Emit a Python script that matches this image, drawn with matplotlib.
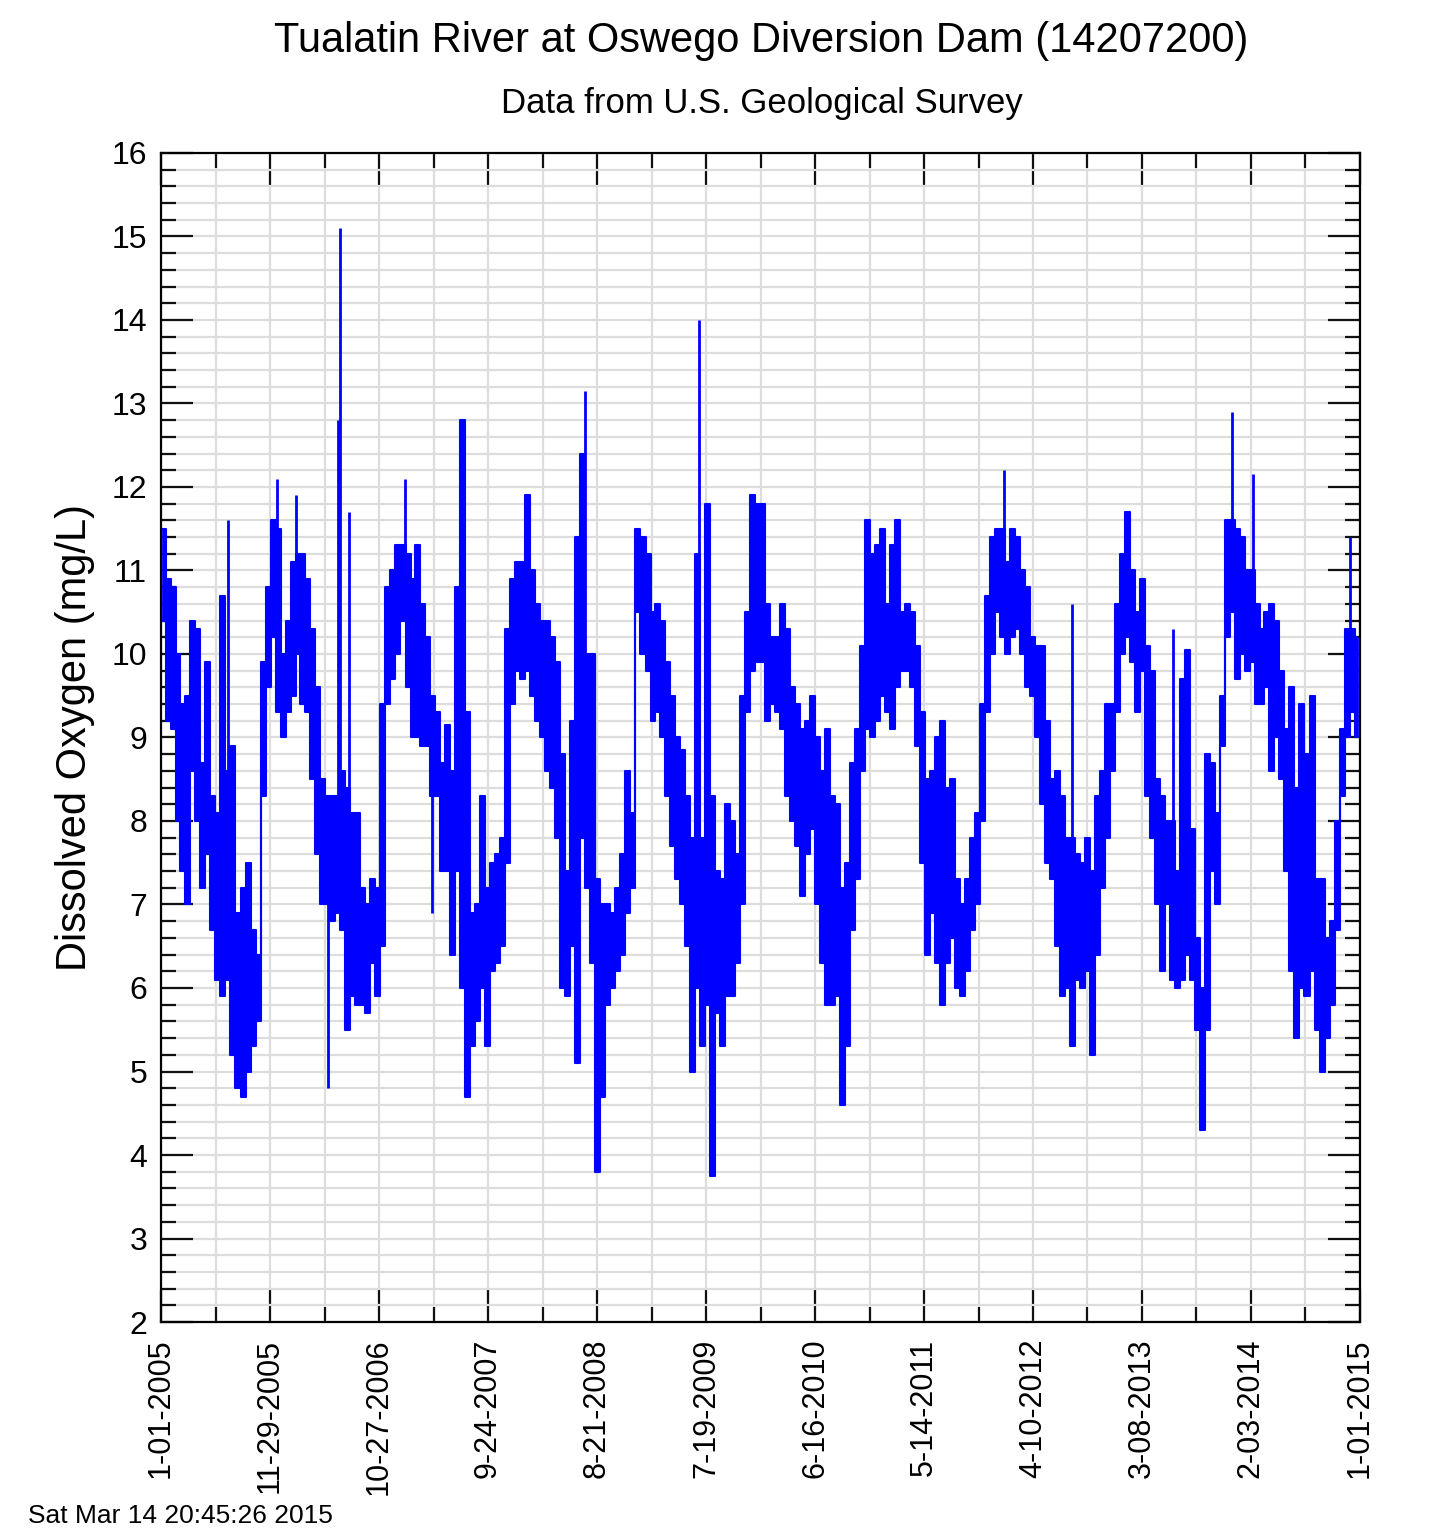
import matplotlib
matplotlib.use('Agg')
import matplotlib.pyplot as plt
import matplotlib.dates as mdates
import matplotlib.ticker as ticker
import numpy as np
import pandas as pd

plt.rcParams['font.family'] = ['Liberation Sans', 'DejaVu Sans']

# semi-monthly band (high / low) of dissolved oxygen (mg/L)
hi_2005 = [11.5, 10.9, 10.8, 10.0, 9.4, 9.5, 10.4, 10.3, 8.7, 9.9, 8.3, 8.1, 10.7, 8.6, 8.9, 6.9, 7.2, 7.5, 6.7, 6.4, 9.9, 10.8, 11.6, 11.5]
lo_2005 = [10.4, 9.2, 9.1, 8.0, 7.4, 7.0, 8.6, 8.0, 7.2, 7.6, 6.7, 6.1, 5.9, 6.1, 5.2, 4.8, 4.7, 5.0, 5.3, 5.6, 8.3, 9.6, 10.2, 9.3]
hi_2006 = [10.0, 10.4, 11.1, 11.2, 11.2, 10.9, 10.3, 9.6, 8.5, 8.3, 8.3, 8.3, 8.6, 8.4, 8.1, 8.1, 7.2, 7.0, 7.3, 7.2, 9.4, 10.8, 11.0, 11.3]
lo_2006 = [9.0, 9.3, 9.5, 10.0, 9.4, 9.3, 8.5, 7.6, 7.0, 7.0, 6.8, 6.9, 6.7, 5.5, 5.9, 5.8, 5.8, 5.7, 6.3, 5.9, 6.5, 9.4, 9.7, 10.0]
hi_2007 = [11.3, 11.2, 10.9, 11.3, 10.6, 10.2, 9.5, 9.3, 8.7, 9.15, 8.6, 10.8, 12.8, 9.3, 6.9, 7.0, 8.3, 7.2, 7.5, 7.6, 7.8, 10.3, 10.9, 11.1]
lo_2007 = [10.4, 9.6, 9.0, 9.0, 8.9, 8.9, 8.3, 8.3, 7.4, 7.4, 6.4, 7.4, 6.0, 4.7, 5.3, 5.6, 6.0, 5.3, 6.2, 6.3, 6.5, 7.5, 9.4, 9.8]
hi_2008 = [11.1, 11.9, 11.0, 10.6, 10.4, 10.4, 10.2, 9.9, 8.8, 7.4, 9.2, 11.4, 12.4, 10.0, 10.0, 7.3, 7.0, 7.0, 6.9, 7.2, 7.6, 8.6, 8.1, 11.5]
lo_2008 = [9.7, 9.8, 9.5, 9.2, 9.0, 8.6, 8.4, 7.8, 6.0, 5.9, 6.5, 5.1, 7.8, 7.2, 6.3, 3.8, 4.7, 5.8, 6.0, 6.2, 6.4, 6.9, 7.2, 10.5]
hi_2009 = [11.4, 11.2, 10.5, 10.6, 10.4, 9.9, 9.5, 9.0, 8.85, 8.3, 7.8, 11.2, 7.8, 11.8, 8.3, 7.4, 7.3, 8.2, 8.0, 7.6, 9.5, 10.5, 11.9, 11.8]
lo_2009 = [10.0, 9.8, 9.2, 9.3, 9.0, 8.3, 7.7, 7.3, 7.0, 6.5, 5.0, 6.0, 5.3, 5.8, 3.75, 5.7, 5.3, 5.9, 5.9, 6.3, 7.0, 9.3, 9.8, 9.9]
hi_2010 = [11.8, 10.6, 10.2, 10.2, 10.6, 10.3, 9.6, 9.4, 9.1, 9.2, 9.5, 9.0, 8.6, 9.1, 8.3, 8.2, 7.2, 7.5, 8.7, 9.1, 10.1, 11.6, 11.2, 11.3]
lo_2010 = [9.9, 9.2, 9.4, 9.3, 9.1, 8.3, 8.0, 7.7, 7.1, 7.6, 7.9, 7.0, 6.3, 5.8, 5.8, 5.9, 4.6, 5.3, 6.7, 7.3, 8.6, 9.1, 9.0, 9.2]
hi_2011 = [11.5, 10.6, 11.3, 11.6, 10.5, 10.6, 10.5, 10.1, 9.3, 8.5, 8.6, 9.0, 9.2, 8.4, 8.5, 7.3, 7.0, 7.3, 7.8, 8.1, 9.4, 10.7, 11.4, 11.5]
lo_2011 = [9.5, 9.3, 9.1, 9.6, 9.8, 9.8, 9.6, 8.9, 7.5, 6.4, 6.9, 6.3, 5.8, 6.3, 6.6, 6.0, 5.9, 6.2, 6.7, 7.0, 8.0, 9.3, 10.0, 10.5]
hi_2012 = [11.5, 11.1, 11.5, 11.4, 11.0, 10.8, 10.2, 10.1, 10.1, 9.2, 8.5, 8.6, 8.3, 7.8, 7.8, 7.6, 7.5, 7.8, 7.4, 8.3, 8.6, 9.4, 9.4, 10.6]
lo_2012 = [10.2, 10.0, 10.2, 10.3, 10.0, 9.6, 9.5, 9.0, 8.2, 7.5, 7.3, 6.5, 5.9, 6.0, 5.3, 6.1, 6.0, 6.2, 5.2, 6.4, 7.2, 7.8, 8.6, 9.3]
hi_2013 = [11.2, 11.7, 11.0, 10.5, 10.9, 10.1, 9.8, 8.5, 8.3, 8.0, 8.0, 7.4, 9.7, 10.05, 7.9, 6.6, 6.0, 8.8, 8.7, 8.1, 9.5, 11.6, 11.6, 11.5]
lo_2013 = [10.0, 10.2, 9.9, 9.3, 9.8, 8.3, 7.8, 7.0, 6.2, 7.0, 6.1, 6.0, 6.1, 6.4, 6.1, 5.5, 4.3, 5.5, 7.4, 7.0, 8.9, 10.2, 10.5, 9.7]
hi_2014 = [11.4, 11.0, 11.0, 10.6, 10.3, 10.5, 10.6, 10.4, 9.8, 9.1, 9.6, 8.4, 9.4, 8.8, 9.5, 7.3, 7.3, 6.6, 6.8, 8.0, 9.1, 10.3, 10.3, 10.2]
lo_2014 = [10.0, 9.8, 9.9, 9.4, 9.4, 9.6, 8.6, 9.0, 8.5, 7.4, 6.2, 5.4, 6.0, 5.9, 6.2, 5.5, 5.0, 5.4, 5.8, 6.7, 8.3, 9.0, 9.3, 9.0]

# single-reading spikes outside the band
spike_dates = ['2005-07-24', '2005-12-20', '2006-02-16', '2006-05-24', '2006-06-24', '2006-06-30',
               '2006-07-27', '2007-01-13', '2007-04-06', '2008-07-16', '2009-06-29', '2012-01-12',
               '2012-08-07', '2013-06-09', '2013-12-08', '2014-02-09', '2014-12-02']
spike_vals = [11.6, 12.1, 11.9, 4.8, 12.8, 15.1,
              11.7, 12.1, 6.9, 13.15, 14.0, 12.2,
              10.6, 10.3, 12.9, 12.15, 11.4]

tick_dates = ['2005-01-01', '2005-11-29', '2006-10-27', '2007-09-24', '2008-08-21', '2009-07-19',
              '2010-06-16', '2011-05-14', '2012-04-10', '2013-03-08', '2014-02-03', '2015-01-01']
tick_labels = ['1-01-2005', '11-29-2005', '10-27-2006', '9-24-2007', '8-21-2008', '7-19-2009',
               '6-16-2010', '5-14-2011', '4-10-2012', '3-08-2013', '2-03-2014', '1-01-2015']

hi = np.concatenate([hi_2005, hi_2006, hi_2007, hi_2008, hi_2009, hi_2010, hi_2011, hi_2012, hi_2013, hi_2014])
lo = np.concatenate([lo_2005, lo_2006, lo_2007, lo_2008, lo_2009, lo_2010, lo_2011, lo_2012, lo_2013, lo_2014])
dates = pd.date_range('2005-01-01', periods=len(hi), freq='SMS')
t = mdates.date2num(dates.to_pydatetime())
step = np.diff(np.append(t, mdates.date2num(pd.Timestamp('2015-01-01').to_pydatetime())))
tm = t + step / 2

st = mdates.date2num(pd.to_datetime(spike_dates).to_pydatetime())
idx = np.searchsorted(t, st, side='right') - 1
sv = np.array(spike_vals)
base = np.where(sv > hi[idx], hi[idx], lo[idx])

fig = plt.figure(figsize=(14.29, 15.31), dpi=100)
ax = fig.add_axes([0.1127, 0.1365, 0.8390, 0.7636])

blue = '#0000ff'
ax.fill_between(tm, lo, hi, step='mid', color=blue, lw=0, zorder=3)
ax.vlines(tm, lo, hi, color=blue, lw=2.0, zorder=3)
ax.plot(tm, hi, color=blue, lw=1.5, drawstyle='steps-mid', zorder=3)
ax.plot(tm, lo, color=blue, lw=1.5, drawstyle='steps-mid', zorder=3)
ax.vlines(st, base, sv, color=blue, lw=2.0, zorder=3)

major = mdates.date2num(pd.to_datetime(tick_dates).to_pydatetime())
minor = (major[:-1] + major[1:]) / 2
ax.set_xlim(major[0], major[-1])
ax.set_ylim(2, 16)
ax.set_xticks(major)
ax.set_xticklabels(tick_labels, rotation=90, fontsize=22)
ax.set_xticks(minor, minor=True)
ax.yaxis.set_major_locator(ticker.MultipleLocator(1))
ax.yaxis.set_minor_locator(ticker.MultipleLocator(0.2))
ax.tick_params(axis='y', labelsize=23)

ax.grid(which='both', color='#dddddd', lw=1.6)
ax.set_axisbelow(True)
ax.tick_params(which='both', direction='in', top=True, right=True, width=1.6, color='#111111')
ax.tick_params(which='major', length=23)
ax.tick_params(which='minor', length=11)
ax.tick_params(axis='x', which='major', pad=12)
ax.tick_params(axis='y', which='major', pad=10)
for s in ax.spines.values():
    s.set_linewidth(1.6)

ax.set_ylabel('Dissolved Oxygen (mg/L)', fontsize=30, labelpad=12)

fig.text(0.533, 1 - 41 / 1531, 'Tualatin River at Oswego Diversion Dam (14207200)', ha='center', va='center', fontsize=30)
fig.text(0.533, 1 - 104 / 1531, 'Data from U.S. Geological Survey', ha='center', va='center', fontsize=25)
fig.text(28 / 1429, 3 / 1531, 'Sat Mar 14 20:45:26 2015', ha='left', va='bottom', fontsize=19)

fig.savefig('out.png', dpi=100)
